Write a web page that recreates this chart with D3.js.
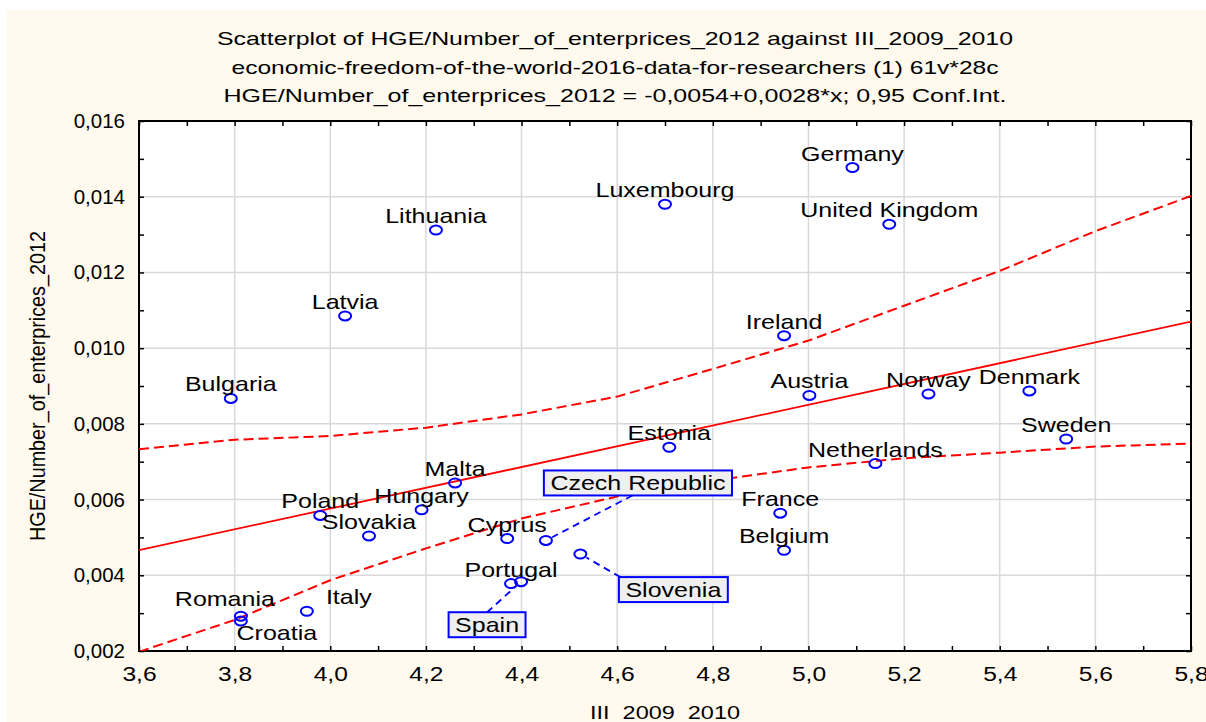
<!DOCTYPE html>
<meta charset="utf-8">
<style>
body { margin: 0; background: #fff; }
text { font-family: "Liberation Sans", Arial, sans-serif; fill: #000; }
.grid line { stroke: #d9d9d9; stroke-width: 1.5px; }
.axis text { font-size: 20.5px; font-family: "Liberation Sans", Arial, sans-serif; }
.ticks line { stroke: #000; stroke-width: 1.5px; }
.frame { fill: none; stroke: #000; stroke-width: 2px; }
.fit { fill: none; stroke: #ff0000; stroke-width: 1.8px; }
.band { fill: none; stroke: #ff0000; stroke-width: 2px; stroke-dasharray: 10,5; }
.pt { fill: none; stroke: #0000ff; stroke-width: 2px; }
.lbl { font-size: 20.5px; }
.callout rect { fill: #efefef; stroke: #0000ff; stroke-width: 2px; }
.leader { stroke: #0000ff; stroke-width: 1.8px; stroke-dasharray: 7,5; }
</style>
<body>
<svg width="1206" height="722"></svg>
<script src="https://d3js.org/d3.v7.min.js"></script>
<script>
// data
var countries = ["Germany", "United Kingdom", "Luxembourg", "Lithuania", "Latvia", "Bulgaria",
  "Ireland", "Austria", "Norway", "Denmark", "Sweden", "Netherlands", "Estonia", "Malta",
  "Poland", "Hungary", "Slovakia", "Cyprus", "Czech Republic", "Slovenia", "Portugal", "Spain",
  "France", "Belgium", "Italy", "Romania", "Croatia"];
var iii = [5.092, 5.169, 4.700, 4.221, 4.031, 3.792,
  4.949, 5.002, 5.251, 5.462, 5.539, 5.140, 4.709, 4.261,
  3.979, 4.191, 4.081, 4.370, 4.451, 4.523, 4.378, 4.399,
  4.941, 4.949, 3.951, 3.813, 3.813];
var hge = [0.01477, 0.01327, 0.01380, 0.01312, 0.01085, 0.00867,
  0.01033, 0.00875, 0.00879, 0.00887, 0.00760, 0.00695, 0.00738, 0.00644,
  0.00558, 0.00573, 0.00504, 0.00497, 0.00492, 0.00456, 0.00378, 0.00383,
  0.00564, 0.00466, 0.00305, 0.00292, 0.00279];

var fitX = [3.6, 5.8];
var fitY = [0.004665, 0.01070];

var bandX = [3.6, 3.8, 4.0, 4.2, 4.4, 4.6, 4.8, 5.0, 5.2, 5.4, 5.6, 5.8];
var bandUpper = [0.00733, 0.00758, 0.00768, 0.00790, 0.00825, 0.00872, 0.00945, 0.01020, 0.01112, 0.01204, 0.01309, 0.01402];
var bandLower = [0.00198, 0.00282, 0.00387, 0.00471, 0.00550, 0.00608, 0.00650, 0.00685, 0.00709, 0.00724, 0.00740, 0.00748];

var xTicks = [3.6, 3.8, 4.0, 4.2, 4.4, 4.6, 4.8, 5.0, 5.2, 5.4, 5.6, 5.8];
var yTicks = [0.002, 0.004, 0.006, 0.008, 0.010, 0.012, 0.014, 0.016];

var titleLines = [
  "Scatterplot of HGE/Number_of_enterprices_2012 against III_2009_2010",
  "economic-freedom-of-the-world-2016-data-for-researchers (1) 61v*28c",
  "HGE/Number_of_enterprices_2012 = -0,0054+0,0028*x; 0,95 Conf.Int."
];
var xTitle = "III_2009_2010";
var yTitle = "HGE/Number_of_enterprices_2012";

// label placement (layout only)
var nudge = { "Italy": [42, -7], "Romania": [-16, -10], "Croatia": [36, 19] };
var callouts = {
  "Czech Republic": { bx: 92, by: -57.5, ax: -5.5, ay: 12.5 },
  "Slovenia": { bx: 93, by: 35.5, ax: -53, ay: -12.5 },
  "Spain": { bx: -34, by: 43, ax: 0, ay: -12.5 }
};

var svg = d3.select("svg"),
    margin = {top: 121, right: 15, bottom: 71, left: 139},
    width = +svg.attr("width") - margin.left - margin.right,
    height = +svg.attr("height") - margin.top - margin.bottom;

var loc = d3.formatLocale({decimal: ",", thousands: " ", grouping: [3], currency: ["", ""]});

svg.append("rect").attr("x", 7).attr("y", 10).attr("width", 1199).attr("height", 712).attr("fill", "#fff9ee");

// titles
titleLines.forEach(function(t, i) {
  svg.append("text")
    .attr("x", 615).attr("y", [45, 74, 102][i])
    .attr("text-anchor", "middle")
    .attr("font-size", "18.6px")
    .attr("textLength", [796, 767, 783][i])
    .attr("lengthAdjust", "spacingAndGlyphs")
    .text(t);
});

var x = d3.scaleLinear().domain([3.6, 5.8]).range([0, width]);
var y = d3.scaleLinear().domain([0.002, 0.016]).range([height, 0]);

var g = svg.append("g").attr("transform", "translate(" + margin.left + "," + margin.top + ")");

g.append("rect").attr("width", width).attr("height", height).attr("fill", "#fff");

g.append("clipPath").attr("id", "clip")
  .append("rect").attr("width", width).attr("height", height);

var grid = g.append("g").attr("class", "grid");
grid.selectAll(".gx").data(xTicks).enter().append("line")
  .attr("x1", function(d) { return x(d); }).attr("x2", function(d) { return x(d); })
  .attr("y1", 0).attr("y2", height);
grid.selectAll(".gy").data(yTicks).enter().append("line")
  .attr("y1", function(d) { return y(d); }).attr("y2", function(d) { return y(d); })
  .attr("x1", 0).attr("x2", width);

// small inward ticks on all four sides
var xTickPos = d3.range(36, 59).map(function(d) { return d / 10; });
var yTickPos = d3.range(2, 17).map(function(d) { return d / 1000; });
function ticksOnly(a) { return a.tickSizeInner(-5).tickSizeOuter(0).tickFormat(""); }
[
  [d3.axisBottom(x).tickValues(xTickPos), "translate(0," + height + ")"],
  [d3.axisTop(x).tickValues(xTickPos), "translate(0,0)"],
  [d3.axisLeft(y).tickValues(yTickPos), "translate(0,0)"],
  [d3.axisRight(y).tickValues(yTickPos), "translate(" + width + ",0)"]
].forEach(function(a) {
  var t = g.append("g").attr("class", "ticks").attr("transform", a[1]).call(ticksOnly(a[0]));
  t.select(".domain").remove();
});

g.append("rect").attr("class", "frame").attr("width", width).attr("height", height);

// tick labels
var xAxis = g.append("g").attr("class", "axis")
  .attr("transform", "translate(0," + height + ")")
  .call(d3.axisBottom(x).tickValues(xTicks).tickSize(0).tickFormat(loc.format(".1f")));
xAxis.select(".domain").remove();
xAxis.selectAll("text").attr("y", 30).attr("dy", null).attr("transform", "scale(1.2,1)");

var yAxis = g.append("g").attr("class", "axis")
  .call(d3.axisLeft(y).tickValues(yTicks).tickSize(0).tickPadding(14).tickFormat(loc.format(".3f")));
yAxis.select(".domain").remove();

svg.append("text")
  .attr("x", margin.left + width / 2).attr("y", 719)
  .attr("text-anchor", "middle").attr("font-size", "18px")
  .attr("textLength", 150).attr("lengthAdjust", "spacingAndGlyphs")
  .text(xTitle);

svg.append("text")
  .attr("transform", "translate(45," + (margin.top + height / 2) + ") rotate(-90)")
  .attr("text-anchor", "middle").attr("font-size", "22px")
  .attr("textLength", 310).attr("lengthAdjust", "spacingAndGlyphs")
  .text(yTitle);

// regression line and confidence bands
var line = d3.line().x(function(d) { return x(d[0]); }).y(function(d) { return y(d[1]); });
var lines = g.append("g").attr("clip-path", "url(#clip)");
lines.append("path").attr("class", "band").attr("d", line(d3.zip(bandX, bandUpper)));
lines.append("path").attr("class", "band").attr("d", line(d3.zip(bandX, bandLower)));
lines.append("path").attr("class", "fit").attr("d", line(d3.zip(fitX, fitY)));

var pts = countries.map(function(c, i) { return { name: c, x: x(iii[i]), y: y(hge[i]) }; });

// callout leaders first so boxes sit on top
var co = g.append("g");
pts.filter(function(p) { return callouts[p.name]; }).forEach(function(p) {
  var c = callouts[p.name];
  var cx = p.x + c.bx, cy = p.y + c.by;
  var ax = cx + c.ax, ay = cy + c.ay;
  var dx = p.x - ax, dy = p.y - ay, len = Math.sqrt(dx * dx + dy * dy);
  co.append("line").attr("class", "leader")
    .attr("x1", ax).attr("y1", ay)
    .attr("x2", p.x - dx / len * 7).attr("y2", p.y - dy / len * 7);
});

g.selectAll(".pt").data(pts).enter().append("ellipse")
  .attr("class", "pt")
  .attr("cx", function(d) { return d.x; })
  .attr("cy", function(d) { return d.y; })
  .attr("rx", 6).attr("ry", 4.5);

g.selectAll(".lbl").data(pts.filter(function(p) { return !callouts[p.name]; })).enter().append("text")
  .attr("class", "lbl")
  .attr("text-anchor", "middle")
  .attr("transform", function(d) {
    var n = nudge[d.name] || [0, -7];
    return "translate(" + (d.x + n[0]) + "," + (d.y + n[1]) + ") scale(1.22,1)";
  })
  .text(function(d) { return d.name; });

pts.filter(function(p) { return callouts[p.name]; }).forEach(function(p) {
  var c = callouts[p.name];
  var cx = p.x + c.bx, cy = p.y + c.by;
  var box = co.append("g").attr("class", "callout");
  var r = box.append("rect");
  var t = box.append("text").attr("class", "lbl").attr("text-anchor", "middle")
    .attr("transform", "translate(" + cx + "," + (cy + 7.5) + ") scale(1.22,1)")
    .text(p.name);
  var w = t.node().getComputedTextLength() * 1.22 + 13;
  r.attr("x", cx - w / 2).attr("y", cy - 12.5).attr("width", w).attr("height", 25);
});
</script>
</body>
